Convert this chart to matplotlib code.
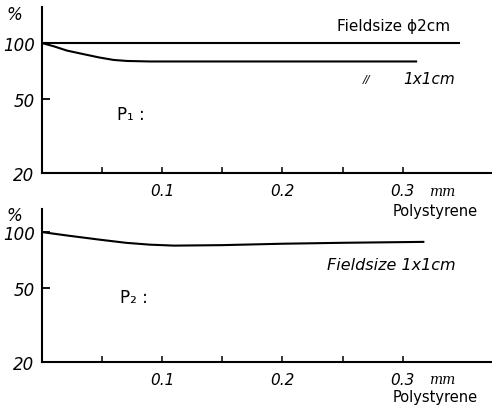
import matplotlib.pyplot as plt
from matplotlib.ticker import FixedLocator, NullLocator, NullFormatter

# Relative dose vs. polystyrene thickness (mm)
x_phi2 = [0.0, 0.347]
y_phi2 = [100, 100]

x_p1 = [0.0, 0.01, 0.021, 0.035, 0.048, 0.06, 0.071, 0.09, 0.15, 0.2, 0.25, 0.311]
y_p1 = [100, 96, 91, 87, 83.5, 81, 80, 79.5, 79.5, 79.5, 79.5, 79.5]

x_p2 = [0.0, 0.02, 0.048, 0.07, 0.09, 0.11, 0.15, 0.2, 0.25, 0.317]
y_p2 = [100, 96, 91, 87.5, 85.5, 84.5, 85, 86.5, 87.5, 88.5]

y_ticks = [20, 50, 100]
x_major = [0.1, 0.2, 0.3]
x_minor = [0.05, 0.15, 0.25]

plt.rcParams['font.family'] = ['DejaVu Sans']

fig = plt.figure(figsize=(4.92, 4.14), dpi=100)
ax1 = fig.add_axes([0.0844, 0.5797, 0.9156, 0.401])
ax2 = fig.add_axes([0.0844, 0.1232, 0.9156, 0.3696])


def style_axis(ax, ytop):
    ax.set_facecolor('none')
    ax.set_yscale('log')
    ax.set_xlim(0, 0.374)
    ax.set_ylim(20, ytop)
    for s in ['top', 'right']:
        ax.spines[s].set_visible(False)
    for s in ['left', 'bottom']:
        ax.spines[s].set_linewidth(1.5)
    ax.yaxis.set_major_locator(FixedLocator(y_ticks))
    ax.yaxis.set_minor_locator(NullLocator())
    ax.yaxis.set_minor_formatter(NullFormatter())
    ax.set_yticklabels([str(t) for t in y_ticks], style='italic')
    ax.xaxis.set_major_locator(FixedLocator(x_major))
    ax.xaxis.set_minor_locator(FixedLocator(x_minor))
    ax.set_xticklabels([str(t) for t in x_major], style='italic')
    ax.tick_params(axis='y', direction='in', length=6, width=1.3, pad=5, labelsize=12)
    ax.tick_params(axis='x', which='both', direction='in', length=4, width=1.1, pad=7, labelsize=11)
    ax.tick_params(axis='y', which='minor', length=0)
    ax.text(-0.06, 0.93, '%', transform=ax.transAxes, fontsize=12, ha='center', style='italic')
    ax.text(0.889, -0.11, 'mm', transform=ax.transAxes, fontsize=10, ha='center', va='center',
            family='DejaVu Serif', style='italic')
    ax.text(0.873, -0.225, 'Polystyrene', transform=ax.transAxes, fontsize=10.5, ha='center',
            va='center')


style_axis(ax1, 156)
style_axis(ax2, 133)

ax1.plot(x_phi2, y_phi2, color='black', lw=1.5)
ax1.plot(x_p1, y_p1, color='black', lw=1.5)
ax1.text(0.245, 100 * 10 ** (17 / 186), 'Fieldsize ϕ2cm', fontsize=11, va='center')
ax1.text(0.267, 100 * 10 ** (-36 / 186), '//', fontsize=8, va='center', style='italic')
ax1.text(0.3, 100 * 10 ** (-36 / 186), '1x1cm', fontsize=11, va='center', style='italic')
ax1.text(0.063, 100 * 10 ** (-71 / 186), 'P₁ :', fontsize=12, va='center')

ax2.plot(x_p2, y_p2, color='black', lw=1.5)
ax2.text(0.237, 100 * 10 ** (-32 / 186), 'Fieldsize 1x1cm', fontsize=11.5, va='center', style='italic')
ax2.text(0.065, 100 * 10 ** (-65 / 186), 'P₂ :', fontsize=12, va='center')

fig.savefig('out.png', dpi=100)
